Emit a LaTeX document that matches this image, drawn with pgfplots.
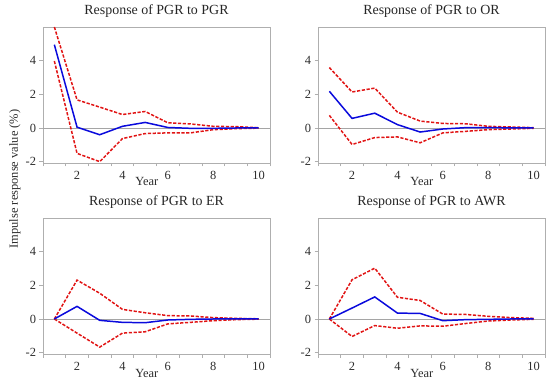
\documentclass[border=0pt]{standalone}
\usepackage{pgfplots}
\usepackage{pgfplotstable}
\pgfplotsset{compat=1.18}
\usepackage{fontspec}
\setmainfont{Liberation Serif}
\definecolor{irfblue}{RGB}{10,10,220}
\definecolor{irfred}{RGB}{225,20,20}
\definecolor{frame}{RGB}{175,175,175}
\definecolor{zeroln}{RGB}{165,165,165}
\definecolor{txt}{RGB}{45,45,45}

\pgfplotstableread{
x m u l
1 4.95 6.00 3.98
2 0.05 1.67 -1.51
3 -0.40 1.24 -2.00
4 0.10 0.80 -0.63
5 0.33 0.98 -0.33
6 0.03 0.31 -0.29
7 -0.02 0.24 -0.29
8 -0.02 0.10 -0.10
9 0.00 0.08 -0.04
10 0.00 0.02 -0.01
}\tPGR
\pgfplotstableread{
x m u l
1 2.18 3.59 0.75
2 0.57 2.14 -0.98
3 0.88 2.37 -0.57
4 0.20 0.94 -0.53
5 -0.24 0.41 -0.88
6 -0.06 0.27 -0.29
7 0.02 0.25 -0.20
8 0.02 0.10 -0.10
9 0.01 0.06 -0.06
10 0.00 0.02 -0.02
}\tOR
\pgfplotstableread{
x m u l
1 0.00 0.00 0.00
2 0.75 2.31 -0.84
3 -0.08 1.53 -1.67
4 -0.20 0.57 -0.84
5 -0.22 0.37 -0.76
6 -0.06 0.20 -0.29
7 -0.02 0.18 -0.20
8 0.00 0.08 -0.10
9 0.00 0.04 -0.04
10 0.00 0.01 -0.01
}\tER
\pgfplotstableread{
x m u l
1 0.00 0.00 0.00
2 0.65 2.33 -1.04
3 1.31 3.02 -0.39
4 0.35 1.29 -0.55
5 0.33 1.10 -0.41
6 -0.10 0.29 -0.43
7 -0.04 0.27 -0.27
8 -0.02 0.16 -0.12
9 0.00 0.08 -0.06
10 0.00 0.04 -0.02
}\tAWR

\pgfplotsset{
  irf/.style={
    scale only axis, width=227bp, height=136bp,
    xmin=0.5, xmax=10.5, ymin=-2.08, ymax=6,
    xtick={2,4,6,8,10}, major x tick style={draw=none},
    minor xtick={0.5,1.5,...,10.5},
    ytick={-2,0,2,4},
    xtick pos=left, ytick pos=left,
    tick align=outside,
    major tick length=3.5bp, minor tick length=3.5bp,
    axis line style={frame, line width=0.8pt},
    tick style={frame, line width=0.8pt},
    minor x tick style={frame, line width=0.8pt},
    /pgf/number format/assume math mode=true,
    tick label style={font=\fontsize{12.5}{14}\selectfont, text=txt},
    xticklabel style={yshift=-1bp},
    title style={at={(0.5,1)}, anchor=base, yshift=6.5bp, font=\fontsize{14}{16}\selectfont, text=black!85},
    xlabel={Year},
    xlabel style={at={(axis description cs:0.457,0)}, anchor=base, yshift=-23bp, font=\fontsize{12.5}{14}\selectfont, text=txt},
    clip=false,
  },
  zl/.style={zeroln, line width=0.9pt},
  mid/.style={irfblue, line width=1.5pt},
  band/.style={irfred, line width=1.5pt, dash pattern=on 3.2bp off 1.6bp},
}

\begin{document}
\begin{tikzpicture}
\path[use as bounding box] (0,0) rectangle (550bp,383bp);

\begin{axis}[irf, at={(43bp,220bp)}, anchor=south west, title={Response of PGR to PGR}]
\addplot[zl] coordinates {(0.5,0) (10.5,0)};
\addplot[band] table[x=x,y=u] {\tPGR};
\addplot[band] table[x=x,y=l] {\tPGR};
\addplot[mid] table[x=x,y=m] {\tPGR};
\end{axis}

\begin{axis}[irf, at={(318bp,220bp)}, anchor=south west, title={Response of PGR to OR}]
\addplot[zl] coordinates {(0.5,0) (10.5,0)};
\addplot[band] table[x=x,y=u] {\tOR};
\addplot[band] table[x=x,y=l] {\tOR};
\addplot[mid] table[x=x,y=m] {\tOR};
\end{axis}

\begin{axis}[irf, at={(43bp,29bp)}, anchor=south west, title={Response of PGR to ER}]
\addplot[zl] coordinates {(0.5,0) (10.5,0)};
\addplot[band] table[x=x,y=u] {\tER};
\addplot[band] table[x=x,y=l] {\tER};
\addplot[mid] table[x=x,y=m] {\tER};
\end{axis}

\begin{axis}[irf, at={(318bp,29bp)}, anchor=south west, title={Response of PGR to AWR}]
\addplot[zl] coordinates {(0.5,0) (10.5,0)};
\addplot[band] table[x=x,y=u] {\tAWR};
\addplot[band] table[x=x,y=l] {\tAWR};
\addplot[mid] table[x=x,y=m] {\tAWR};
\end{axis}

\node[rotate=90, font=\fontsize{12.5}{14}\selectfont, text=txt] at (15bp,204bp) {Impulse response value (\%)};
\end{tikzpicture}
\end{document}
